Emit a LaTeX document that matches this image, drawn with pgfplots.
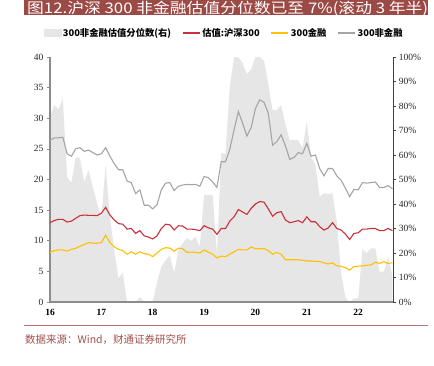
\documentclass[border=0pt]{standalone}
\usepackage{pgfplots}
\pgfplotsset{compat=1.18}
\usepackage{fontspec}
\setmainfont{Liberation Serif}
\newfontfamily\cjk{Noto Sans CJK SC}
\definecolor{titlered}{HTML}{9C4A45}
\definecolor{linered}{HTML}{C9303A}
\definecolor{lineyel}{HTML}{FFC000}
\definecolor{linegray}{HTML}{A5A5A5}
\definecolor{areagray}{HTML}{E6E6E6}
\definecolor{axgray}{HTML}{8C8C8C}
\definecolor{srcred}{HTML}{A0504B}
\definecolor{rulered}{HTML}{B47474}

\pgfplotstableread{
m v
0 75.6
1 80.4
2 78.6
3 83
4 51
5 48.7
6 58.9
7 58.9
8 48.9
9 53.9
10 47
11 40.3
12 34.8
13 55.9
14 34.8
15 21.2
16 9.7
17 12
18 0
19 0
20 0
21 2
22 0
23 0
24 0
25 8
26 14.4
27 17
28 19
29 12
30 21.2
31 24
32 26
33 25
34 26.7
35 22.6
36 43.7
37 43.7
38 43.7
39 19.9
40 60.7
41 60.7
42 88
43 100
44 100
45 97.5
46 93
47 95
48 100
49 100
50 98.5
51 89
52 78.4
53 78.4
54 80.4
55 72.5
56 66.1
57 66.1
58 66.1
59 63
60 73.6
61 59
62 56
63 43
64 44.4
65 44
66 44.4
67 33
68 12
69 2
70 0
71 1.5
72 1.5
73 21.5
74 20
75 21.9
76 21.9
77 12.4
78 12.4
79 18.5
80 10.3
}\pctdata

\pgfplotstableread{
m hs fin nonfin
0 12.95 8.1 26.4
1 13.3 8.4 26.8
2 13.5 8.5 26.8
3 13.5 8.5 26.9
4 13.06 8.3 24.2
5 13.2 8.6 23.8
6 13.66 8.76 25.0
7 14.1 9.1 25.2
8 14.2 9.4 24.6
9 14.15 9.7 24.8
10 14.15 9.6 24.4
11 14.1 9.6 24.0
12 14.5 9.7 24.2
13 15.46 10.9 25.2
14 14.2 9.7 23.8
15 13.4 9.0 22.6
16 12.8 8.6 21.6
17 12.7 8.4 21.6
18 11.9 7.8 19.75
19 12.0 8.2 19.5
20 11.2 7.8 17.7
21 11.65 8.2 18.3
22 10.8 7.9 15.8
23 10.6 7.8 15.8
24 10.3 7.4 15.2
25 10.8 8.0 15.9
26 12.0 8.6 18.3
27 12.7 8.87 19.4
28 12.6 8.8 19.5
29 11.75 8.3 18.2
30 12.45 8.8 18.9
31 12.4 8.7 19.1
32 11.9 8.1 19.2
33 11.9 8.15 19.15
34 11.8 8.1 19.2
35 11.65 8.0 18.9
36 12.45 8.5 20.5
37 12.1 8.15 20.3
38 11.9 7.8 19.6
39 11.05 7.2 18.7
40 12.0 7.5 22.9
41 12.0 7.4 22.9
42 13.2 7.8 24.9
43 13.9 8.2 28.1
44 15.1 8.6 31.1
45 14.7 8.5 29.2
46 14.3 8.5 27.1
47 15.3 9.0 28.5
48 16.0 8.7 31.6
49 16.4 8.7 33.0
50 16.3 8.7 32.6
51 15.2 8.4 30.8
52 14.0 7.8 25.6
53 14.6 8.1 26.2
54 14.75 7.8 27.3
55 13.4 6.9 25.5
56 12.95 6.9 23.3
57 13.1 6.9 23.6
58 13.3 6.9 24.4
59 12.95 6.8 24.2
60 13.9 6.7 25.9
61 13.1 6.7 23.8
62 13.1 6.65 24.0
63 12.3 6.6 21.8
64 11.75 6.4 20.6
65 12.1 6.2 21.8
66 12.95 6.4 21.8
67 12.0 5.9 20.6
68 11.75 5.85 19.9
69 11.1 5.6 18.6
70 10.2 5.2 17.2
71 11.2 5.8 18.4
72 11.3 5.85 18.3
73 11.9 5.9 19.5
74 11.9 6.0 19.4
75 12.0 6.05 19.5
76 12.0 6.5 19.6
77 11.65 6.3 18.7
78 11.65 6.6 18.7
79 12.0 6.3 19.0
80 11.65 6.4 18.5
}\valdata

\begin{document}
\begin{tikzpicture}[x=1pt,y=1pt]
% title bar
\fill[titlered] (24,350) rectangle (428,365);
\node[anchor=base west, inner sep=0pt, text=white, font=\cjk\fontsize{14.6}{15}\selectfont] at (27,351.8) {\scalebox{1.15}[1]{图12.沪深 300 非金融估值分位数已至 7\%(滚动 3 年半)}};

% right axis: percentile area
\begin{axis}[
  at={(50pt,63pt)}, anchor=south west, scale only axis,
  width=343.3pt, height=245pt,
  xmin=0, xmax=80.2, ymin=0, ymax=100,
  axis y line*=right, axis x line=none,
  ytick={0,10,...,100},
  yticklabel={\pgfmathprintnumber{\tick}\%},
  yticklabel style={font=\fontsize{9.5}{10}\selectfont, color=black!85, xshift=-1pt},
  /pgf/number format/assume math mode=true,
  tick align=outside, major tick length=3pt,
  y axis line style={draw=black!75, line width=0.8pt},
  ytick style={draw=black!75, line width=0.6pt},
  clip=false,
]
\addplot[fill=areagray, draw=none] table[x=m, y=v] {\pctdata} \closedcycle;
\end{axis}

% left axis: valuation lines
\begin{axis}[
  at={(50pt,63pt)}, anchor=south west, scale only axis,
  width=343.3pt, height=245pt,
  xmin=0, xmax=80.2, ymin=0, ymax=40,
  axis x line*=bottom, axis y line*=left,
  xtick={0,12,...,72},
  xticklabels={16,17,18,19,20,21,22},
  xtick style={draw=none},
  xticklabel style={font=\bfseries\fontsize{9.5}{10}\selectfont, yshift=-1pt},
  ytick={0,5,...,40},
  yticklabel style={font=\fontsize{9.5}{10}\selectfont, color=black!85},
  /pgf/number format/assume math mode=true,
  tick align=outside, major tick length=3pt,
  ytick style={draw=axgray, line width=0.6pt},
  axis line style={draw=axgray, line width=1.5pt},
  legend columns=4,
  legend style={at={(0.507,1.098)}, anchor=center, draw=none, fill=none,
    font=\cjk\bfseries\fontsize{9.3}{10}\selectfont,
    /tikz/every even column/.append style={column sep=9pt},
    inner sep=0pt},
  legend cell align=left,
]
\addlegendimage{legend image code/.code={\fill[areagray] (0cm,-0.1cm) rectangle (0.6cm,0.12cm);}}
\addlegendentry{300非金融估值分位数(右)}
\addplot[linered, line width=1.1pt] table[x=m, y=hs] {\valdata};
\addlegendentry{估值:沪深300}
\addplot[lineyel, line width=1.1pt] table[x=m, y=fin] {\valdata};
\addlegendentry{300金融}
\addplot[linegray, line width=1.1pt] table[x=m, y=nonfin] {\valdata};
\addlegendentry{300非金融}
\end{axis}

% source
\draw[rulered, line width=0.9pt] (24,40) -- (428,40);
\node[anchor=west, inner sep=0pt, text=srcred, font=\cjk\fontsize{10.5}{11}\selectfont] at (25,25) {数据来源：Wind，财通证券研究所};

\pgfresetboundingbox
\path[use as bounding box] (0,0) rectangle (434,365);
\end{tikzpicture}
\end{document}
